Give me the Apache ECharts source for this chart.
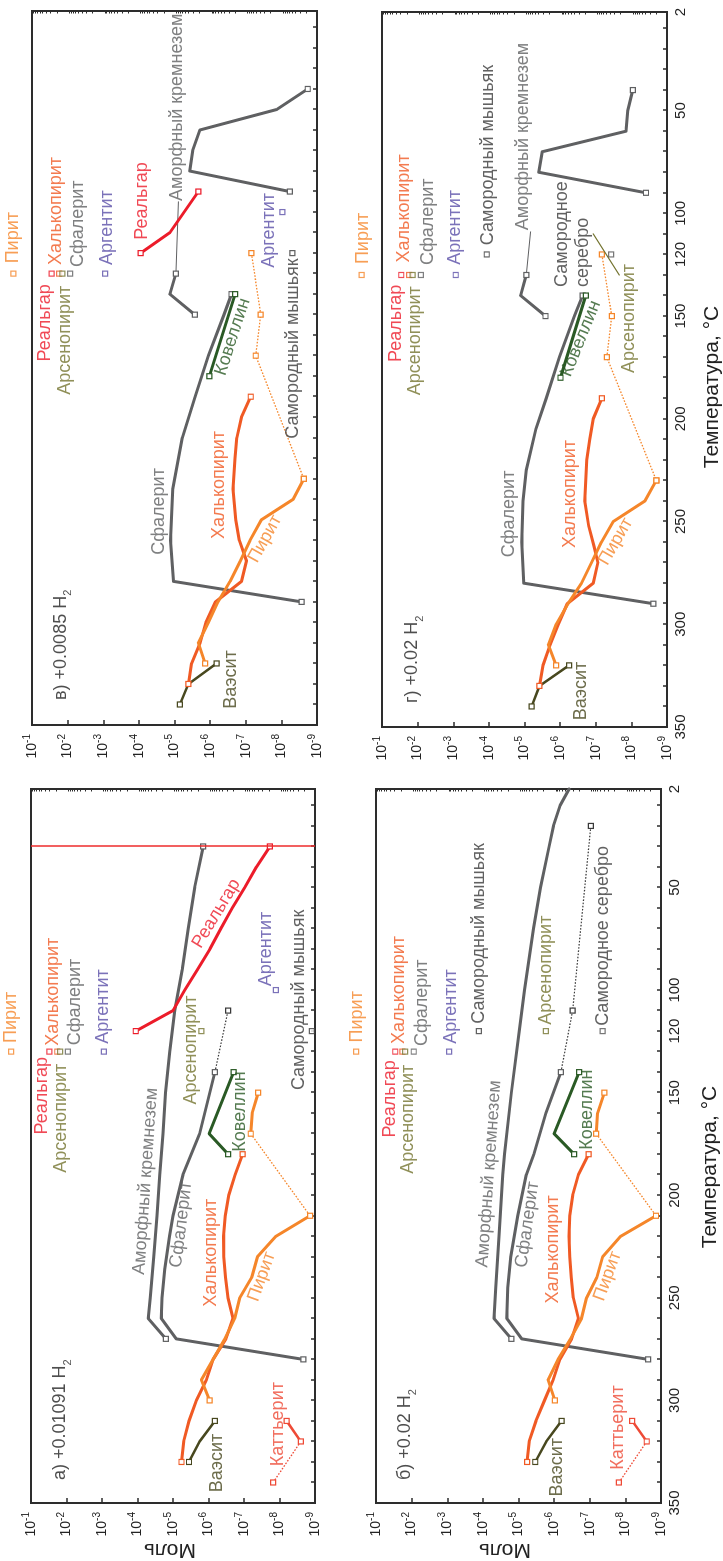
<!DOCTYPE html>
<html><head><meta charset="utf-8">
<script src="https://cdn.jsdelivr.net/npm/echarts@6/dist/echarts.min.js"></script>
<style>
html,body{margin:0;padding:0;width:723px;height:1561px;overflow:hidden;background:#fff}
#c{position:absolute;left:0;top:1561px;width:1561px;height:723px;transform-origin:0 0;transform:rotate(-90deg);background:#fff}
</style></head><body><div id="c"></div>
<script>
// ---------- axis tick values ----------
const tempLabels = [2, 50, 100, 120, 150, 200, 250, 300, 350];
const molDecades = [-9, -8, -7, -6, -5, -4, -3, -2, -1];   // log10(mol)
const TOP_T = 130;
const topKeys = ['pyrite', 'realgar', 'chalco', 'arseno', 'grey', 'argent'];

// ---------- panel а) +0.01091 H2 : [T °C, log10 mol] ----------
const a_silica = [[30,-5.85],[50,-5.61],[70,-5.43],[90,-5.26],[110,-5.05],[130,-4.91],[150,-4.79],[170,-4.72],[190,-4.63],[210,-4.55],[230,-4.46],[250,-4.36],[260,-4.30],[270,-4.80]];
const a_sphal = [[140,-6.18],[170,-5.75],[190,-5.28],[210,-5.00],[220,-4.90],[236,-4.77],[250,-4.69],[260,-4.67],[270,-5.09],[280,-8.67]];
const a_sphalDot = [[140,-6.18],[110,-6.55]];
const a_realgar = [[120,-3.95],[110,-5.00],[100,-5.33],[90,-5.69],[80,-6.04],[70,-6.35],[60,-6.67],[50,-7.02],[40,-7.35],[30,-7.73]];
const a_chalco = [[180,-6.96],[190,-6.75],[200,-6.57],[210,-6.47],[220,-6.42],[230,-6.43],[240,-6.48],[250,-6.55],[260,-6.69],[270,-6.49],[280,-6.13],[290,-5.94],[300,-5.66],[310,-5.45],[320,-5.30],[330,-5.24]];
const a_pyrite = [[210,-8.86],[220,-7.90],[230,-7.38],[240,-7.22],[250,-6.88],[260,-6.74],[270,-6.46],[280,-6.13],[290,-5.80],[300,-6.03]];
const a_pyriteSeg = [[150,-7.40],[160,-7.23],[170,-7.19]];
const a_pyriteDot = [[170,-7.19],[210,-8.86]];
const a_vasite = [[310,-6.18],[320,-5.75],[330,-5.45]];
const a_catt = [[310,-8.20],[320,-8.60]];
const a_cattDot = [[320,-8.60],[340,-7.82]];
const a_covel = [[140,-6.71],[170,-6.02],[180,-6.55]];
const a_arseno = [120,-5.80];
const a_argent = [100,-7.90];
const a_arsenic = [120,-8.91];
const a_top = [-0.44,-1.52,-1.74,-1.82,-2.04,-3.05];
const a_redLineT = 30;

// ---------- panel б) +0.02 H2 ----------
const b_silica = [[2,-6.42],[10,-6.17],[20,-5.98],[30,-5.86],[50,-5.62],[70,-5.42],[100,-5.17],[120,-5.02],[150,-4.80],[180,-4.61],[190,-4.56],[220,-4.45],[245,-4.36],[260,-4.31],[270,-4.80]];
const b_sphal = [[140,-6.19],[160,-5.77],[180,-5.43],[190,-5.22],[210,-4.98],[230,-4.78],[245,-4.70],[260,-4.67],[270,-5.09],[280,-8.64]];
const b_sphalDot = [[140,-6.19],[110,-6.52],[20,-7.03]];
const b_chalco = [[180,-6.97],[190,-6.68],[200,-6.52],[210,-6.44],[220,-6.42],[230,-6.44],[240,-6.48],[250,-6.54],[260,-6.68],[270,-6.49],[280,-6.16],[290,-5.97],[300,-5.73],[310,-5.49],[320,-5.30],[330,-5.24]];
const b_pyrite = [[210,-8.86],[220,-7.87],[230,-7.36],[240,-7.20],[250,-6.91],[260,-6.77],[270,-6.46],[280,-6.11],[290,-5.83],[300,-6.02]];
const b_pyriteSeg = [[150,-7.41],[160,-7.22],[170,-7.18]];
const b_pyriteDot = [[170,-7.18],[210,-8.86]];
const b_vasite = [[310,-6.21],[320,-5.78],[330,-5.47]];
const b_catt = [[310,-8.19],[320,-8.60]];
const b_cattDot = [[320,-8.60],[340,-7.82]];
const b_covel = [[140,-6.70],[170,-6.00],[180,-6.56]];
const b_arsenic = [120,-3.89];
const b_arseno = [120,-5.77];
const b_silver = [120,-7.36];
const b_top = [-0.44,-1.54,-1.74,-1.82,-2.06,-3.05];

// ---------- panel в) +0.0085 H2 ----------
const c_silica1 = [[40,-8.74],[50,-7.87],[60,-5.71],[70,-5.51],[80,-5.43],[90,-8.24]];
const c_silica2 = [[130,-5.04],[140,-4.87],[150,-5.57]];
const c_leader = [[95,-5.11],[130,-5.04]];
const c_realgar = [[120,-4.05],[110,-4.87],[90,-5.67]];
const c_sphal = [[140,-6.60],[150,-6.39],[170,-5.95],[190,-5.58],[210,-5.22],[235,-4.95],[260,-4.89],[280,-4.97],[290,-8.57]];
const c_covel = [[140,-6.70],[180,-5.98]];
const c_chalco = [[190,-7.14],[200,-6.88],[210,-6.75],[220,-6.70],[235,-6.64],[250,-6.72],[260,-6.82],[270,-7.02],[280,-6.88],[290,-6.15],[300,-5.88],[310,-5.72],[320,-5.48],[330,-5.39]];
const c_pyriteDot = [[120,-7.16],[150,-7.42],[170,-7.28],[230,-8.63]];
const c_pyrite = [[230,-8.63],[240,-8.33],[250,-7.44],[260,-7.12],[270,-6.85],[280,-6.56],[290,-6.22],[300,-5.95],[310,-5.67],[320,-5.86]];
const c_vasite = [[320,-6.18],[330,-5.39],[340,-5.15]];
const c_argent = [100,-8.03];
const c_arsenic = [120,-8.31];
const c_top = [-0.475,-1.55,-1.76,-1.85,-2.07,-3.05];

// ---------- panel г) +0.02 H2 ----------
const d_silica1 = [[40,-8.04],[50,-7.90],[60,-7.85],[70,-5.50],[80,-5.40],[90,-8.41]];
const d_silica2 = [[130,-5.05],[140,-4.89],[150,-5.59]];
const d_leader = [[109,-5.17],[130,-5.05]];
const d_sphal = [[140,-6.63],[150,-6.40],[170,-5.98],[190,-5.61],[205,-5.32],[225,-5.05],[240,-4.96],[260,-4.92],[280,-4.98],[290,-8.62]];
const d_covel = [[140,-6.72],[180,-6.01]];
const d_chalco = [[190,-7.17],[200,-6.93],[210,-6.83],[220,-6.75],[240,-6.69],[252,-6.80],[262,-6.95],[270,-7.06],[280,-6.93],[290,-6.20],[300,-5.95],[310,-5.72],[320,-5.52],[330,-5.42]];
const d_pyriteDot = [[120,-7.17],[150,-7.45],[170,-7.31],[230,-8.70]];
const d_pyrite = [[230,-8.70],[240,-8.38],[250,-7.49],[260,-7.16],[270,-6.88],[280,-6.60],[290,-6.22],[300,-5.89],[310,-5.67],[320,-5.89]];
const d_vasite = [[320,-6.25],[330,-5.42],[340,-5.20]];
const d_arsenic = [120,-3.94];
const d_silver = [120,-7.43];
const d_arsenoLeader = [[110,-6.93],[130,-7.66]];
const d_top = [-0.43,-1.54,-1.76,-1.86,-2.09,-3.07];

// ---------- styling ----------
const FONT = '"Liberation Sans", Arial, Helvetica, sans-serif';
const COL = {grey:'#5f6062', chalco:'#f05a24', pyrite:'#f5862a', realgar:'#ec1c2a', catt:'#ee4a36',
  vasite:'#48481f', arseno:'#747430', covel:'#2a5a25', argent:'#5a4fa8', dark:'#3a3a3a', silver:'#555', red:'#ee2b2b', text:'#222'};

const grids = [
  {left:58, top:31, width:714, height:284},
  {left:58, top:376, width:714, height:285},
  {left:836, top:32, width:714, height:285},
  {left:834, top:382, width:715, height:285}
];

const tempTicks = []; for (let t = 10; t <= 340; t += 10) tempTicks.push(t);
const minorLog = []; for (let n = -9; n < -1; n++) for (let k = 2; k <= 9; k++) minorLog.push(n + Math.log10(k));

function line(gi, data, col, w, dotted, marks) {
  const n = data.length;
  const idx = marks === 'all' ? data.map((_, i) => i) : marks === 'ends' ? [0, n - 1] : (marks || []);
  return {type:'line', xAxisIndex:gi, yAxisIndex:gi*2, silent:true, animation:false,
    data: data.map((p, i) => ({value:p, symbol: idx.includes(i) ? 'rect' : 'none'})),
    showSymbol:true, showAllSymbol:true, symbolSize:5,
    itemStyle:{color:'#fff', borderColor:COL[col], borderWidth:1.2},
    lineStyle:{color:COL[col], width:w, type: dotted ? [1.6, 1.6] : 'solid', cap: dotted ? 'butt' : 'round', join:'round'},
    z: dotted ? 2 : 3};
}

function build(gi, curves, points, topLg, notes, title) {
  const s = curves.map(c => line(gi, c[0], c[1], c[2], c[3], c[4]));
  const mk = points.map(p => ({value:p[0], itemStyle:{color:'#fff', borderColor:COL[p[1]], borderWidth:1.2}}));
  topLg.forEach((v, i) => mk.push({value:[TOP_T, v], itemStyle:{color:'#fff', borderColor:COL[topKeys[i]], borderWidth:1.2}}));
  s.push({type:'scatter', xAxisIndex:gi, yAxisIndex:gi*2, symbol:'rect', symbolSize:5, clip:false, silent:true, animation:false, z:5, data:mk});
  const nt = notes.map(n => ({value:[n[1], n[2]], label:{show:true, position:'inside', formatter:n[0], rotate:n[3]||0,
    color:COL[n[4]], fontSize:18, fontFamily:FONT, align:n[5]||'center', verticalAlign:'middle', lineHeight:21}}));
  nt.push({value:[title[1], title[2]], label:{show:true, position:'inside', align:'left', verticalAlign:'middle',
    formatter:'{t|' + title[0] + '}{s|2}',
    rich:{t:{fontSize:18, fontFamily:FONT, color:COL.text, lineHeight:26, verticalAlign:'middle'},
          s:{fontSize:11, fontFamily:FONT, color:COL.text, lineHeight:26, verticalAlign:'bottom'}}}});
  s.push({type:'scatter', xAxisIndex:gi, yAxisIndex:gi*2, symbolSize:1, itemStyle:{color:'rgba(0,0,0,0)'},
    clip:false, silent:true, animation:false, z:6, data:nt});
  return s;
}

const topNotes = (p) => [
  ['Пирит', p[0][0], p[0][1], 0, 'pyrite'], ['Реальгар', p[1][0], p[1][1], 0, 'realgar'],
  ['Халькопирит', p[2][0], p[2][1], 0, 'chalco'], ['Арсенопирит', p[3][0], p[3][1], 0, 'arseno'],
  ['Сфалерит', p[4][0], p[4][1], 0, 'grey'], ['Аргентит', p[5][0], p[5][1], 0, 'argent']];

let series = [];
// а
series = series.concat(build(0, [
  [a_silica,'grey',3,false,'ends'], [a_sphal,'grey',3,false,'ends'], [a_sphalDot,'dark',1.2,true,[1]],
  [a_realgar,'realgar',3,false,'ends'], [a_chalco,'chalco',3,false,'ends'], [a_pyrite,'pyrite',3,false,'ends'],
  [a_pyriteSeg,'pyrite',3,false,'ends'], [a_pyriteDot,'pyrite',1.3,true,[]], [a_vasite,'vasite',2.5,false,'ends'],
  [a_catt,'catt',2.5,false,'ends'], [a_cattDot,'catt',1.3,true,[1]], [a_covel,'covel',3,false,'ends']
], [[a_arseno,'arseno'],[a_argent,'argent'],[a_arsenic,'dark']], a_top, [
  ['Реальгар',62.7,-6.22,-31,'realgar'], ['Аморфный кремнезем',193.2,-4.23,-4,'grey'], ['Сфалерит',214.3,-5.23,-7,'grey'],
  ['Халькопирит',228,-6.06,0,'chalco'], ['Пирит',239.7,-7.50,-20,'pyrite'], ['Ковеллин',159.2,-6.90,0,'covel'],
  ['Ваэсит',330.5,-6.23,0,'vasite'], ['Каттьерит',311.6,-7.96,0,'catt'], ['Арсенопирит',129.2,-5.52,0,'arseno'],
  ['Аргентит',80,-7.61,0,'argent'], ['Самородный мышьяк',104.8,-8.55,0,'dark']
].concat(topNotes([[113.3,-0.44],[151.5,-1.32],[100.8,-1.63],[162.5,-1.85],[105.8,-2.23],[108,-3.03]])),
  ['а) +0.01091 H', 338.8, -1.83]));
series[3].markLine = {symbol:'none', silent:true, animation:false, label:{show:false},
  lineStyle:{color:COL.red, width:1.5, type:'solid'}, data:[{xAxis:a_redLineT}]};
// б
series = series.concat(build(1, [
  [b_silica,'grey',3,false,[14]], [b_sphal,'grey',3,false,'ends'], [b_sphalDot,'dark',1.2,true,[1,2]],
  [b_chalco,'chalco',3,false,'ends'], [b_pyrite,'pyrite',3,false,'ends'], [b_pyriteSeg,'pyrite',3,false,'ends'],
  [b_pyriteDot,'pyrite',1.3,true,[]], [b_vasite,'vasite',2.5,false,'ends'], [b_catt,'catt',2.5,false,'ends'],
  [b_cattDot,'catt',1.3,true,[1]], [b_covel,'covel',3,false,'ends']
], [[b_arsenic,'dark'],[b_arseno,'arseno'],[b_silver,'silver']], b_top, [
  ['Аморфный кремнезем',189.6,-4.17,-4,'grey'], ['Сфалерит',214.3,-5.25,-8,'grey'], ['Халькопирит',226.4,-5.98,0,'chalco'],
  ['Пирит',239.4,-7.50,-20,'pyrite'], ['Ковеллин',158.3,-6.92,0,'covel'], ['Ваэсит',332.6,-6.09,0,'vasite'],
  ['Каттьерит',313.2,-7.78,0,'catt'], ['Самородный мышьяк',72.4,-3.89,0,'dark'], ['Арсенопирит',90.3,-5.78,0,'arseno'],
  ['Самородное серебро',73.6,-7.36,0,'dark']
].concat(topNotes([[113,-0.46],[153,-1.38],[100,-1.66],[163,-1.90],[106.2,-2.29],[108,-3.11]])),
  ['б) +0.02 H', 338.8, -1.82]));
// в
series = series.concat(build(2, [
  [c_silica1,'grey',3,false,'ends'], [c_silica2,'grey',3,false,'ends'], [c_leader,'grey',1,false,[]],
  [c_realgar,'realgar',3,false,'ends'], [c_sphal,'grey',3,false,'ends'], [c_covel,'covel',3,false,'ends'],
  [c_chalco,'chalco',3,false,'ends'], [c_pyriteDot,'pyrite',1.3,true,'all'], [c_pyrite,'pyrite',3,false,'ends'],
  [c_vasite,'vasite',2.5,false,[0,2]]
], [[c_argent,'argent'],[c_arsenic,'dark']], c_top, [
  ['Аморфный кремнезем',48.9,-5.08,0,'grey'], ['Реальгар',94.6,-4.08,0,'realgar'], ['Сфалерит',245.9,-4.57,0,'grey'],
  ['Халькопирит',233,-6.25,0,'chalco'], ['Пирит',259.3,-7.54,-29,'pyrite'], ['Ваэсит',327.8,-6.60,0,'vasite'],
  ['Ковеллин',160.8,-6.63,-18,'covel'], ['Аргентит',108.9,-7.66,0,'argent'], ['Самородный мышьяк',166.5,-8.33,0,'dark']
].concat(topNotes([[112.5,-0.475],[154,-1.36],[99.5,-1.67],[162.5,-1.93],[105.7,-2.30],[107.6,-3.10]])),
  ['в) +0.0085 H', 337.8, -1.81]));
// г
series = series.concat(build(3, [
  [d_silica1,'grey',3,false,'ends'], [d_silica2,'grey',3,false,'ends'], [d_leader,'grey',1,false,[]],
  [d_sphal,'grey',3,false,'ends'], [d_covel,'covel',3,false,'ends'], [d_chalco,'chalco',3,false,'ends'],
  [d_pyriteDot,'pyrite',1.3,true,'all'], [d_pyrite,'pyrite',3,false,'ends'], [d_vasite,'vasite',2.5,false,[0,2]],
  [d_arsenoLeader,'arseno',1.2,false,[]]
], [[d_arsenic,'dark'],[d_silver,'silver']], d_top, [
  ['Аморфный кремнезем',62.6,-4.95,0,'grey'], ['Самородный мышьяк',71.6,-3.97,0,'dark'],
  ['Самородное\nсеребро',135.8,-6.34,0,'dark','left'], ['Арсенопирит',151.2,-7.94,0,'arseno'],
  ['Ковеллин',161,-6.58,-22,'covel'], ['Сфалерит',246.3,-4.57,0,'grey'], ['Халькопирит',236.6,-6.27,0,'chalco'],
  ['Пирит',259.7,-7.56,-30,'pyrite'], ['Ваэсит',332.5,-6.60,0,'vasite']
].concat(topNotes([[112.2,-0.47],[153.5,-1.40],[97.6,-1.62],[162,-1.94],[104.1,-2.30],[106.8,-3.05]])),
  ['г) +0.02 H', 338.3, -1.85]));

const xAxes = grids.map((g, i) => ({type:'value', gridIndex:i, min:2, max:350, inverse:true,
  axisLine:{show:false}, splitLine:{show:false},
  axisTick:{show:true, inside:true, length:4, customValues:tempTicks, lineStyle:{color:'#2d2d2d', width:1.5}},
  axisLabel:{show: i === 1 || i === 3, customValues:tempLabels, margin:6, fontSize:15, color:COL.text,
    fontFamily:FONT, showMinLabel:true, showMaxLabel:true, hideOverlap:false}}));

const yAxes = [];
grids.forEach((g, i) => {
  yAxes.push({type:'value', gridIndex:i, min:molDecades[0], max:molDecades[molDecades.length-1], interval:1,
    axisLine:{show:false}, splitLine:{show:false},
    axisTick:{show:true, inside:true, length:5, lineStyle:{color:'#2d2d2d', width:1.5}},
    axisLabel:{margin:9, color:COL.text, formatter: v => '{b|10}{p|' + v + '}',
      rich:{b:{fontSize:14, fontFamily:FONT, color:COL.text, lineHeight:20, verticalAlign:'middle'},
            p:{fontSize:10, fontFamily:FONT, color:COL.text, lineHeight:20, verticalAlign:'top'}}}});
  yAxes.push({type:'value', gridIndex:i, min:-9, max:-1, axisLine:{show:false}, splitLine:{show:false},
    axisLabel:{show:false},
    axisTick:{show:true, inside:true, length:2.5, customValues:minorLog, lineStyle:{color:'#2d2d2d', width:1}}});
});

const chart = echarts.init(document.getElementById('c'), null, {renderer:'canvas', width:1561, height:723});
chart.setOption({
  animation:false,
  backgroundColor:'#fff',
  grid: grids.map(g => Object.assign({show:true, borderColor:'#2d2d2d', borderWidth:2, backgroundColor:'#fff'}, g)),
  xAxis: xAxes,
  yAxis: yAxes,
  series: series,
  graphic: [
    {type:'text', x:11, y:170, rotation:Math.PI/2, style:{text:'Моль', fontSize:21, fontFamily:FONT, fill:COL.text, align:'center', verticalAlign:'middle'}},
    {type:'text', x:11, y:505, rotation:Math.PI/2, style:{text:'Моль', fontSize:21, fontFamily:FONT, fill:COL.text, align:'center', verticalAlign:'middle'}},
    {type:'text', x:394, y:710, style:{text:'Температура, °C', fontSize:21, fontFamily:FONT, fill:COL.text, align:'center', verticalAlign:'middle'}},
    {type:'text', x:1174, y:712, style:{text:'Температура, °C', fontSize:21, fontFamily:FONT, fill:COL.text, align:'center', verticalAlign:'middle'}}
  ]
});
</script></body></html>
